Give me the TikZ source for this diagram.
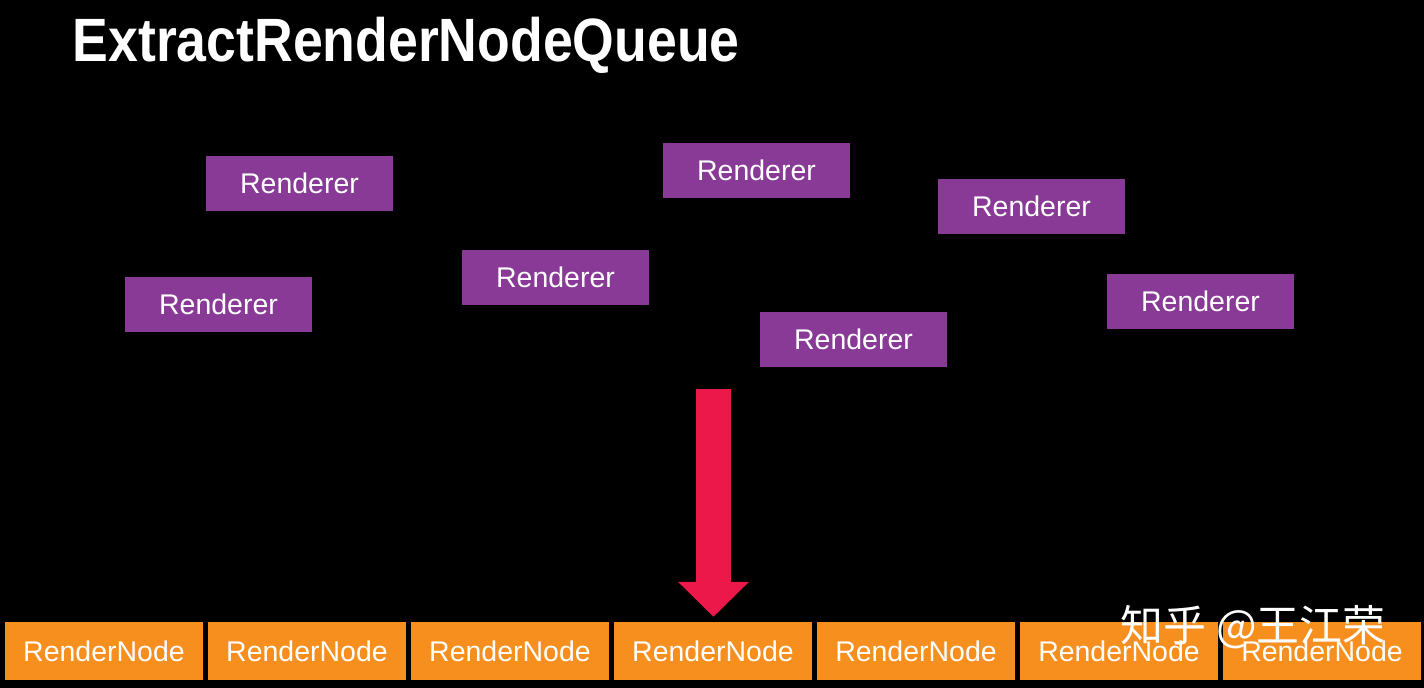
\documentclass[tikz,border=0pt]{standalone}
\usepackage{fontspec}
\setmainfont{Liberation Sans}
\newfontfamily\cjk{Noto Sans CJK SC}
\usepackage{tikz}
\usetikzlibrary{arrows.meta,positioning}

\definecolor{rendpurple}{RGB}{136,58,150}
\definecolor{nodeorange}{RGB}{247,143,30}
\definecolor{arrowred}{RGB}{236,24,74}

\tikzset{
  renderer/.style={fill=rendpurple, text=white, inner sep=0pt,
    minimum width=1.87cm, minimum height=0.55cm, font=\fontsize{8.1}{10}\selectfont},
  rendernode/.style={fill=nodeorange, text=white, inner sep=0pt,
    minimum width=1.97cm, minimum height=0.57cm, font=\fontsize{8.1}{10}\selectfont}
}

\begin{document}
\begin{tikzpicture}[x=0.01cm, y=-0.01cm]
\fill[black] (0,0) rectangle (1424,688);
\useasboundingbox (0,0) rectangle (1424,688);

\node[anchor=base west, text=white, inner sep=0pt, xscale=0.876,
  font=\fontsize{17.4}{20}\selectfont\bfseries] at (72,62) (title) {ExtractRenderNodeQueue};

\node[renderer] at (299.5,183.5) (rendA) {Renderer};
\node[renderer] at (218.5,304.5) (rendB) {Renderer};
\node[renderer] at (555.5,277.5) (rendC) {Renderer};
\node[renderer] at (756.5,170.5) (rendD) {Renderer};
\node[renderer] at (853.5,339.5) (rendE) {Renderer};
\node[renderer] at (1031.5,206.5) (rendF) {Renderer};
\node[renderer] at (1200.5,301.5) (rendG) {Renderer};

\foreach \i in {1,...,7}
  \node[rendernode] at ({104+(\i-1)*203},651) (rn\i) {RenderNode};

\coordinate (arrowTop) at (713.5,389);
\draw[arrowred, line width=0.35cm, shorten >=0.05cm,
  -{Triangle[width=0.69cm,length=0.35cm]}] (arrowTop) -- (arrowTop |- rn4.north);

\node[anchor=west, text=white, inner sep=0pt,
  font=\cjk\fontsize{12.2}{14}\selectfont] at (1120,627) (mark) {知乎 @王江荣};
\end{tikzpicture}
\end{document}
